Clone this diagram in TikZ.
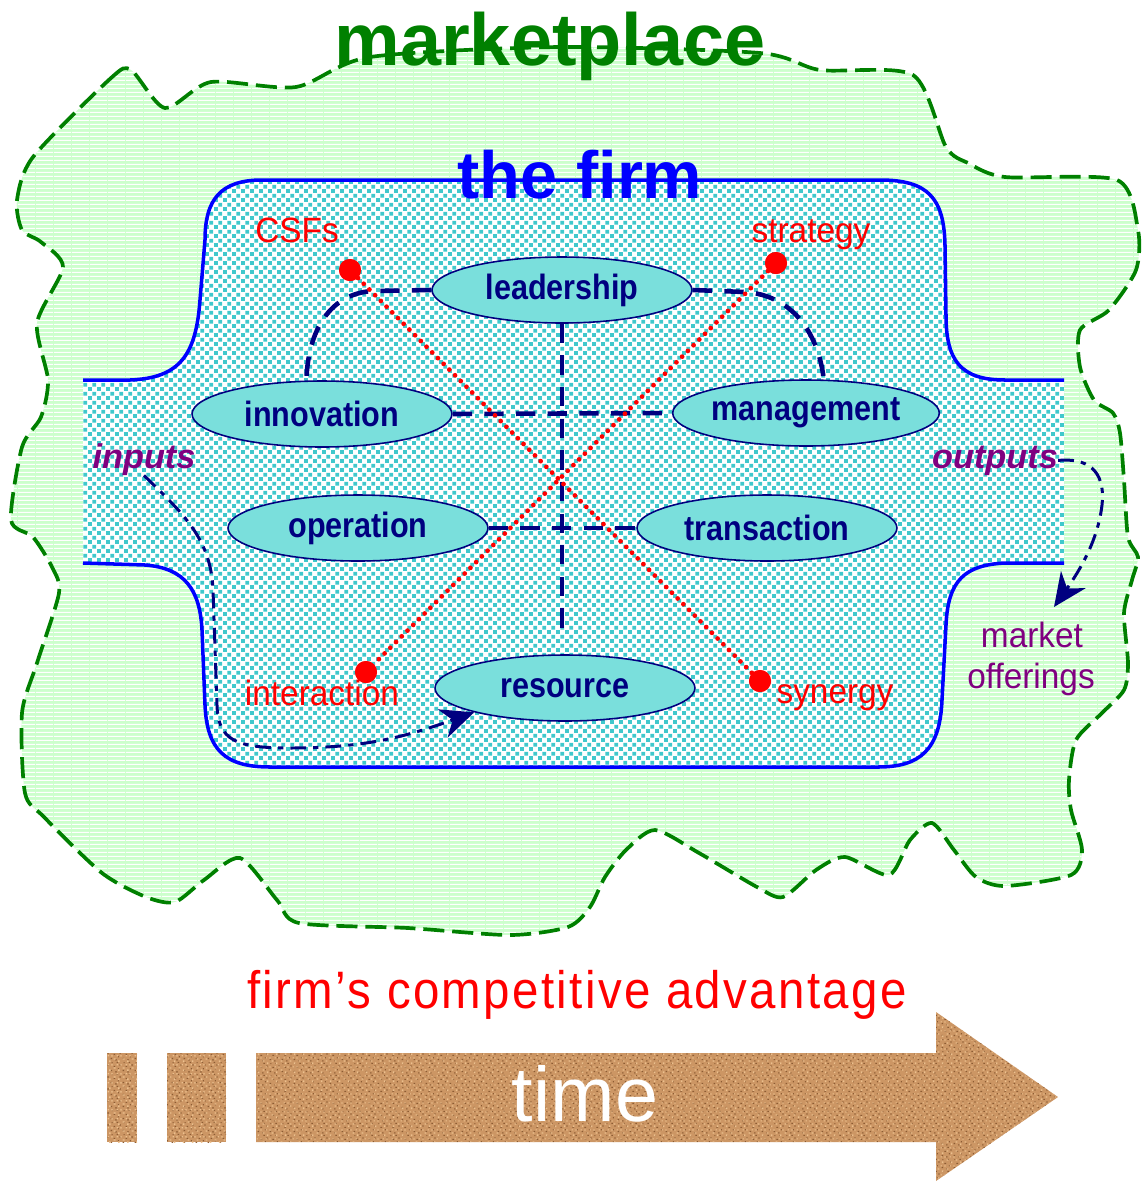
\documentclass[tikz,border=0pt]{standalone}
\usepackage{fontspec}
\setmainfont{Liberation Sans}
\newfontfamily\ovalfont[FakeStretch=0.87]{Liberation Sans}
\newfontfamily\lblfont[FakeStretch=0.95]{Liberation Sans}
\newfontfamily\advfont[FakeStretch=0.9,LetterSpace=4.5]{Liberation Sans}
\usetikzlibrary{shapes.geometric,arrows.meta,patterns}

\definecolor{mktgreen}{RGB}{0,128,0}
\definecolor{mktfill}{RGB}{204,255,204}
\definecolor{firmblue}{RGB}{0,0,255}
\definecolor{speck}{RGB}{64,200,204}
\definecolor{ovalfill}{RGB}{122,223,220}
\definecolor{navy}{RGB}{0,0,128}
\definecolor{plum}{RGB}{128,0,128}
\definecolor{corkbase}{RGB}{204,150,100}
\definecolor{corkdark}{RGB}{140,92,52}
\definecolor{corklight}{RGB}{236,192,142}

% textures
\pgfdeclarepatternformonly{mktstripes}{\pgfqpoint{0pt}{0pt}}{\pgfqpoint{10pt}{2.4pt}}{\pgfqpoint{10pt}{2.4pt}}{%
  \pgfpathrectangle{\pgfqpoint{0pt}{0pt}}{\pgfqpoint{10pt}{0.7pt}}\pgfusepath{fill}}
\pgfdeclarepatternformonly{firmspecks}{\pgfqpoint{0pt}{0pt}}{\pgfqpoint{5pt}{5pt}}{\pgfqpoint{5pt}{5pt}}{%
  \pgfpathrectangle{\pgfqpoint{0pt}{0pt}}{\pgfqpoint{2.3pt}{2.3pt}}
  \pgfpathrectangle{\pgfqpoint{2.5pt}{2.5pt}}{\pgfqpoint{2.3pt}{2.3pt}}\pgfusepath{fill}}
\pgfdeclarepatternformonly{corkdots}{\pgfqpoint{0pt}{0pt}}{\pgfqpoint{7pt}{7pt}}{\pgfqpoint{7pt}{7pt}}{%
  \pgfpathrectangle{\pgfqpoint{0.4pt}{1.1pt}}{\pgfqpoint{0.9pt}{0.7pt}}
  \pgfpathrectangle{\pgfqpoint{3.2pt}{0.2pt}}{\pgfqpoint{0.7pt}{0.9pt}}
  \pgfpathrectangle{\pgfqpoint{2.1pt}{3.6pt}}{\pgfqpoint{1.0pt}{0.6pt}}
  \pgfpathrectangle{\pgfqpoint{5.6pt}{4.4pt}}{\pgfqpoint{0.8pt}{0.8pt}}
  \pgfpathrectangle{\pgfqpoint{0.9pt}{5.9pt}}{\pgfqpoint{0.6pt}{0.6pt}}
  \pgfpathrectangle{\pgfqpoint{4.7pt}{2.1pt}}{\pgfqpoint{0.6pt}{0.8pt}}
  \pgfpathrectangle{\pgfqpoint{3.9pt}{6.0pt}}{\pgfqpoint{0.9pt}{0.6pt}}\pgfusepath{fill}}
\pgfdeclarepatternformonly{corkflecks}{\pgfqpoint{0pt}{0pt}}{\pgfqpoint{5.3pt}{5.3pt}}{\pgfqpoint{5.3pt}{5.3pt}}{%
  \pgfpathrectangle{\pgfqpoint{1.6pt}{2.0pt}}{\pgfqpoint{1.1pt}{0.8pt}}
  \pgfpathrectangle{\pgfqpoint{4.2pt}{0.6pt}}{\pgfqpoint{0.9pt}{1.0pt}}
  \pgfpathrectangle{\pgfqpoint{3.4pt}{4.0pt}}{\pgfqpoint{0.8pt}{0.7pt}}
  \pgfpathrectangle{\pgfqpoint{0.2pt}{3.9pt}}{\pgfqpoint{0.8pt}{0.8pt}}\pgfusepath{fill}}

\begin{document}
\begin{tikzpicture}[x=0.02cm, y=-0.02cm,
  oval/.style={ellipse, draw=navy, line width=0.9pt, fill=ovalfill, minimum width=5.2cm, minimum height=1.32cm,
    inner sep=0pt, text=navy, font=\ovalfont\bfseries\fontsize{20}{24}\selectfont},
  dotnode/.style={circle, fill=red, minimum size=0.44cm, inner sep=0pt},
  redlbl/.style={text=red, font=\lblfont\fontsize{20}{24}\selectfont, anchor=base, inner sep=0pt},
  purplbl/.style={text=plum, font=\lblfont\fontsize{20}{24}\selectfont, anchor=base, inner sep=0pt},
  tie/.style={navy, line width=2.6pt, dash pattern=on 11pt off 7pt},
  cross/.style={red, line width=2.7pt, line cap=round, dash pattern=on 0pt off 4.6pt},
  flow/.style={navy, line width=1.7pt, dash pattern=on 9pt off 4pt on 3pt off 4pt,
    -{Stealth[length=19pt,width=17pt,inset=6pt]}},
  cork/.style={fill=corkbase, postaction={pattern=corkdots, pattern color=corkdark},
    postaction={pattern=corkflecks, pattern color=corklight}}]
\useasboundingbox (0,0) rectangle (1142,1181);

% marketplace cloud
\draw[mktgreen, line width=2.1pt, dash pattern=on 12pt off 4.5pt, preaction={fill=mktfill},
  pattern=mktstripes, pattern color=white]
  plot[smooth cycle, tension=0.45] coordinates {(33,157) (111,78) (131,70) (165,108) (211,82) (296,87)
  (370,57) (560,47) (760,53) (820,70) (913,75) (946,147) (968,163) (1005,177) (1117,180) (1138,230)
  (1136,270) (1109,310) (1080,330) (1080,367) (1094,400) (1113,413) (1120,433) (1124,480) (1128,537)
  (1138,557) (1132,580) (1124,613) (1128,663) (1124,690) (1102,713) (1076,740) (1069,780) (1071,810)
  (1082,850) (1071,875) (1005,886) (976,877) (954,850) (932,823) (910,840) (889,875) (845,857)
  (816,870) (783,897) (757,887) (699,853) (655,830) (626,850) (605,877) (590,907) (568,927) (510,935)
  (408,928) (299,923) (277,900) (240,858) (204,880) (175,902) (146,897) (102,873) (44,817) (25,793)
  (22,713) (37,663) (59,593) (52,567) (33,537) (11,520) (22,447) (41,417) (48,380) (37,323) (63,267)
  (41,242) (22,230) (17,200)};

% the firm
\path[preaction={fill=white}, pattern=firmspecks, pattern color=speck]
  (83,380) -- (130,380) .. controls (180,378) and (196,355) .. (200,300) -- (205,240)
  .. controls (205,200) and (220,180) .. (262,180) -- (880,180) .. controls (928,180) and (944,198) .. (945,245)
  -- (946,315) .. controls (946,360) and (960,380) .. (1005,380) -- (1064,380) -- (1064,563) -- (1005,563)
  .. controls (965,565) and (948,580) .. (946,625) -- (942,700) .. controls (940,750) and (920,767) .. (878,767)
  -- (270,767) .. controls (225,767) and (207,750) .. (205,705) -- (202,630) .. controls (200,590) and (185,568) .. (145,565)
  -- (83,563) -- cycle;
\draw[firmblue, line width=2pt]
  (83,380) -- (130,380) .. controls (180,378) and (196,355) .. (200,300) -- (205,240)
  .. controls (205,200) and (220,180) .. (262,180) -- (880,180) .. controls (928,180) and (944,198) .. (945,245)
  -- (946,315) .. controls (946,360) and (960,380) .. (1005,380) -- (1064,380);
\draw[firmblue, line width=2pt]
  (1064,563) -- (1005,563) .. controls (965,565) and (948,580) .. (946,625) -- (942,700)
  .. controls (940,750) and (920,767) .. (878,767) -- (270,767) .. controls (225,767) and (207,750) .. (205,705)
  -- (202,630) .. controls (200,590) and (185,568) .. (145,565) -- (83,563);

\node[text=mktgreen, font=\bfseries\fontsize{42}{48}\selectfont, anchor=base, inner sep=0pt] (mkttitle) at (550,65) {marketplace};
\node[text=firmblue, font=\bfseries\fontsize{38}{44}\selectfont, anchor=base, inner sep=0pt] (firmtitle) at (580,198) {the firm};

% functions of the firm
\node[oval] (lead) at (562,290) {leadership};
\node[oval] (innov) at (322,414) {innovation};
\node[oval] (mgmt) at (806,413) {management};
\node[oval] (oper) at (358,528) {operation};
\node[oval] (trans) at (767,528) {transaction};
\node[oval] (res) at (565,688) {resource};
\coordinate (vend) at (562,640);

\draw[tie] (lead.west) -- (372,291) .. controls (330,294) and (308,330) .. (innov.115);
\draw[tie] (lead.east) -- (745,292) .. controls (790,295) and (818,330) .. (mgmt.62);
\draw[tie] (lead.south) -- (vend);
\draw[tie] (innov.east) -- (mgmt.west);
\draw[tie] (oper.east) -- (trans.west);

% success factors
\node[dotnode] (csf) at (350,270) {};
\node[dotnode] (strat) at (776,263) {};
\node[dotnode] (inter) at (366,672) {};
\node[dotnode] (syn) at (760,681) {};
\draw[cross] (csf) -- (syn);
\draw[cross] (strat) -- (inter);
\node[dotnode] at (csf) {};
\node[dotnode] at (strat) {};
\node[dotnode] at (inter) {};
\node[dotnode] at (syn) {};

\node[redlbl] (csflbl) at (297,242) {CSFs};
\node[redlbl] (stratlbl) at (811,242) {strategy};
\node[redlbl] (interlbl) at (322,705) {interaction};
\node[redlbl] (synlbl) at (835,703) {synergy};

% flows in and out
\node[purplbl, font=\bfseries\itshape\fontsize{19.5}{24}\selectfont] (inputs) at (144,468) {inputs};
\node[purplbl, font=\bfseries\itshape\fontsize{19.5}{24}\selectfont] (outputs) at (995,468) {outputs};
\node[purplbl] (mkt) at (1032,647) {market};
\node[purplbl] (offer) at (1031,688) {offerings};
\coordinate (outtip) at (1054,607);

\draw[flow] (inputs.south) .. controls (185,515) and (211,540) .. (213,590) -- (217,705)
  .. controls (218,740) and (235,748) .. (290,748) .. controls (370,748) and (410,735) .. (res.195);
\draw[flow] (outputs.east) .. controls (1085,458) and (1106,468) .. (1102,505)
  .. controls (1098,540) and (1080,570) .. (outtip);

% time arrow
\node[text=red, font=\advfont\fontsize{30}{34}\selectfont, anchor=base, inner sep=0pt] (adv) at (577,1008) {firm’s competitive advantage};
\path[cork] (107,1053) rectangle (137,1142);
\path[cork] (167,1053) rectangle (226,1142);
\path[cork] (256,1053) -- (936,1053) -- (936,1012) -- (1058,1097) -- (936,1181) -- (936,1142) -- (256,1142) -- cycle;
\node[text=white, font=\fontsize{44}{50}\selectfont, inner sep=0pt] (time) at (585,1094) {time};
\end{tikzpicture}
\end{document}
